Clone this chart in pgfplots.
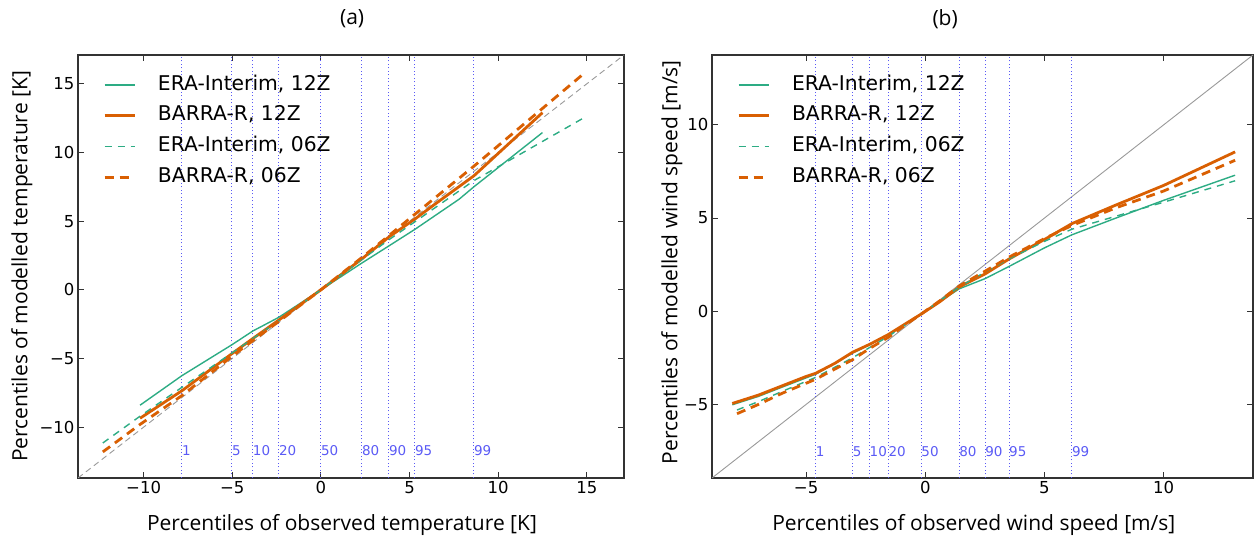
\documentclass[border=0pt]{standalone}
\usepackage{pgfplots}
\pgfplotsset{compat=1.18}
\usepackage{fontspec}
\setmainfont{DejaVu Sans}
\newfontfamily\osans{Open Sans}
\definecolor{teal2}{RGB}{45,172,132}
\definecolor{orng}{RGB}{217,95,2}
\definecolor{pblue}{RGB}{90,90,245}

\tikzset{plab/.style={text=pblue, anchor=west, inner sep=0pt, font=\fontsize{13.5}{15}\selectfont}}
\pgfplotsset{
 legend image code/.code={\draw[#1] (0pt,0pt) -- (30pt,0pt);},
 myaxis/.style={
  scale only axis,
  axis line style={black!80, line width=1.1pt},
  tick align=inside,
  major tick length=6pt,
  tick style={black!80, line width=0.9pt},
  ticklabel style={font=\fontsize{16.5}{18}\selectfont},
  legend cell align=left,
  legend style={at={(axis description cs:0,1)}, anchor=north west, xshift=25pt, yshift=-20pt, draw=none, fill=none, font=\fontsize{20.3}{23}\selectfont, row sep=11.3pt, column sep=22pt, inner sep=0pt, nodes={inner sep=0pt, text height=15pt, text depth=4.5pt}},
  xlabel style={font=\osans\fontsize{21}{24}\selectfont},
  ylabel style={font=\osans\fontsize{21}{24}\selectfont},
  title style={font=\osans\fontsize{21}{24}\selectfont},
 },
 pline/.style={pblue, line width=0.9pt, dash pattern=on 1pt off 2.5pt, forget plot},
 eraA/.style={teal2, line width=1.4pt},
 barA/.style={orng, line width=2.8pt},
 eraB/.style={teal2, line width=1.4pt, dash pattern=on 7pt off 6pt},
 barB/.style={orng, line width=2.8pt, dash pattern=on 9pt off 6pt},
}

\begin{document}
\begin{tikzpicture}
\path[use as bounding box] (0pt,0pt) rectangle (1256pt,537pt);

% ---------------- panel (a)
\begin{axis}[myaxis,
  at={(78pt,59pt)}, anchor=south west,
  width=546pt, height=423pt,
  xmin=-13.7, xmax=17.1, ymin=-13.7, ymax=17.1,
  xtick={-10,-5,0,5,10,15}, xticklabels={−10,−5,0,5,10,15},
  ytick={-10,-5,0,5,10,15}, yticklabels={−10,−5,0,5,10,15},
  title={(a)}, title style={at={(axis description cs:0.502,1)}, anchor=center, yshift=30pt},
  xlabel={Percentiles of observed temperature [K]},
  xlabel style={at={(axis description cs:0.4835,0)}, anchor=center, yshift=-47pt},
  ylabel={Percentiles of modelled temperature [K]},
  ylabel style={at={(axis description cs:-0.1026,0.5)}, anchor=center},
]
\addplot[gray!80, line width=0.9pt, dash pattern=on 6pt off 4pt, forget plot] coordinates {(-13.7,-13.7) (17.1,17.1)};
\addplot[pline] coordinates {(-7.84,-13.7) (-7.84,17.1)};
\addplot[pline] coordinates {(-5.02,-13.7) (-5.02,17.1)};
\addplot[pline] coordinates {(-3.84,-13.7) (-3.84,17.1)};
\addplot[pline] coordinates {(-2.37,-13.7) (-2.37,17.1)};
\addplot[pline] coordinates {(0,-13.7) (0,17.1)};
\addplot[pline] coordinates {(2.31,-13.7) (2.31,17.1)};
\addplot[pline] coordinates {(3.84,-13.7) (3.84,17.1)};
\addplot[pline] coordinates {(5.30,-13.7) (5.30,17.1)};
\addplot[pline] coordinates {(8.63,-13.7) (8.63,17.1)};
\node[plab] at (axis cs:-7.84,-11.73) {1};
\node[plab] at (axis cs:-5.02,-11.73) {5};
\node[plab] at (axis cs:-3.84,-11.73) {10};
\node[plab] at (axis cs:-2.37,-11.73) {20};
\node[plab] at (axis cs:0,-11.73) {50};
\node[plab] at (axis cs:2.31,-11.73) {80};
\node[plab] at (axis cs:3.84,-11.73) {90};
\node[plab] at (axis cs:5.30,-11.73) {95};
\node[plab] at (axis cs:8.63,-11.73) {99};

\addplot[eraA] coordinates {(-10.2,-8.4) (-7.84,-6.25) (-5.02,-4.0) (-3.84,-3.0) (-2.37,-2.0) (0,0) (2.31,1.95) (3.84,3.2) (5.3,4.4) (7.8,6.6) (8.63,7.5) (12.5,11.45)};
\addlegendentry{ERA-Interim, 12Z}
\addplot[barA] coordinates {(-10.2,-9.35) (-7.84,-7.35) (-5.02,-4.65) (-3.84,-3.55) (-2.37,-2.2) (0,0) (2.31,2.25) (3.84,3.85) (5.3,5.15) (6.5,6.3) (8.63,8.3) (12.5,12.9)};
\addlegendentry{BARRA-R, 12Z}
\addplot[eraB] coordinates {(-12.3,-11.15) (-10.2,-9.2) (-7.84,-7.1) (-5.02,-4.6) (-3.84,-3.55) (-2.37,-2.25) (0,0) (2.31,2.2) (3.84,3.65) (5.3,4.95) (8.63,7.95) (14.8,12.5)};
\addlegendentry{ERA-Interim, 06Z}
\addplot[barB] coordinates {(-12.3,-11.8) (-10.2,-9.8) (-7.84,-7.7) (-5.02,-4.85) (-3.84,-3.7) (-2.37,-2.3) (0,0) (2.31,2.35) (3.84,3.95) (5.3,5.5) (8.63,9.0) (14.7,15.6)};
\addlegendentry{BARRA-R, 06Z}
\end{axis}

% ---------------- panel (b)
\begin{axis}[myaxis,
  at={(712pt,59pt)}, anchor=south west,
  width=541pt, height=423pt,
  xmin=-8.95, xmax=13.75, ymin=-8.95, ymax=13.75,
  xtick={-5,0,5,10}, xticklabels={−5,0,5,10},
  ytick={-5,0,5,10}, yticklabels={−5,0,5,10},
  title={(b)}, title style={at={(axis description cs:0.431,1)}, anchor=center, yshift=30pt},
  xlabel={Percentiles of observed wind speed [m/s]},
  xlabel style={at={(axis description cs:0.484,0)}, anchor=center, yshift=-47pt},
  ylabel={Percentiles of modelled wind speed [m/s]},
  ylabel style={at={(axis description cs:-0.074,0.51)}, anchor=center},
]
\addplot[gray!80, line width=0.9pt, forget plot] coordinates {(-8.95,-8.95) (13.75,13.75)};
\addplot[pline] coordinates {(-4.60,-8.95) (-4.60,13.75)};
\addplot[pline] coordinates {(-3.05,-8.95) (-3.05,13.75)};
\addplot[pline] coordinates {(-2.34,-8.95) (-2.34,13.75)};
\addplot[pline] coordinates {(-1.55,-8.95) (-1.55,13.75)};
\addplot[pline] coordinates {(-0.17,-8.95) (-0.17,13.75)};
\addplot[pline] coordinates {(1.42,-8.95) (1.42,13.75)};
\addplot[pline] coordinates {(2.51,-8.95) (2.51,13.75)};
\addplot[pline] coordinates {(3.51,-8.95) (3.51,13.75)};
\addplot[pline] coordinates {(6.15,-8.95) (6.15,13.75)};
\node[plab] at (axis cs:-4.60,-7.55) {1};
\node[plab] at (axis cs:-3.05,-7.55) {5};
\node[plab] at (axis cs:-2.34,-7.55) {10};
\node[plab] at (axis cs:-1.55,-7.55) {20};
\node[plab] at (axis cs:-0.17,-7.55) {50};
\node[plab] at (axis cs:1.42,-7.55) {80};
\node[plab] at (axis cs:2.51,-7.55) {90};
\node[plab] at (axis cs:3.51,-7.55) {95};
\node[plab] at (axis cs:6.15,-7.55) {99};

\addplot[eraA] coordinates {(-8.1,-5.02) (-7,-4.57) (-6,-4.07) (-4.6,-3.38) (-3.05,-2.25) (-2.34,-1.8) (-1.55,-1.25) (-0.8,-0.65) (-0.17,-0.15) (0.6,0.5) (1.42,1.2) (2.51,1.75) (3.51,2.4) (5,3.4) (6.15,4.1) (8,5.0) (10,5.95) (13,7.3)};
\addlegendentry{ERA-Interim, 12Z}
\addplot[barA] coordinates {(-8.1,-4.95) (-7,-4.5) (-6,-4.0) (-5,-3.5) (-4.6,-3.33) (-3.8,-2.8) (-3.05,-2.2) (-2.34,-1.78) (-1.55,-1.25) (-0.8,-0.65) (-0.17,-0.15) (0.6,0.5) (1.42,1.3) (2.51,2.0) (3.51,2.8) (5,3.85) (6.15,4.7) (8,5.7) (10,6.75) (13,8.55)};
\addlegendentry{BARRA-R, 12Z}
\addplot[eraB] coordinates {(-7.9,-5.3) (-7,-4.85) (-6,-4.3) (-4.6,-3.55) (-3.05,-2.5) (-2.34,-1.95) (-1.55,-1.35) (-0.8,-0.7) (-0.17,-0.15) (0.6,0.55) (1.42,1.3) (2.51,2.1) (3.51,2.8) (5,3.75) (6.15,4.4) (8,5.1) (10,5.85) (13,7.0)};
\addlegendentry{ERA-Interim, 06Z}
\addplot[barB] coordinates {(-7.9,-5.5) (-7,-5.0) (-6,-4.4) (-4.6,-3.65) (-3.05,-2.6) (-2.34,-2.0) (-1.55,-1.4) (-0.8,-0.7) (-0.17,-0.15) (0.6,0.55) (1.42,1.35) (2.51,2.15) (3.51,2.9) (5,3.9) (6.15,4.6) (8,5.55) (10,6.45) (13,8.1)};
\addlegendentry{BARRA-R, 06Z}
\end{axis}
\end{tikzpicture}
\end{document}
